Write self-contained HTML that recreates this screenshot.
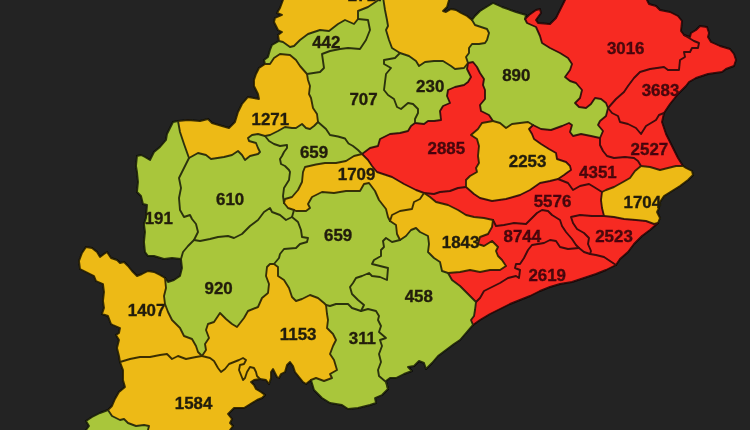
<!DOCTYPE html>
<html lang="en"><head><meta charset="utf-8"><title>Odisha district map</title>
<style>
html,body{margin:0;padding:0;background:#232323;}
body{width:750px;height:430px;overflow:hidden;}
svg{display:block;}
.fills path{stroke-width:.7;stroke-linejoin:round;}
.g{fill:#a9c63a;stroke:#a9c63a;}.o{fill:#edba14;stroke:#edba14;}.r{fill:#f72924;stroke:#f72924;}
.borders{fill:none;stroke:#000;stroke-width:1.9;stroke-linejoin:round;stroke-linecap:round;opacity:0.74;}
text{font-family:"Liberation Sans",sans-serif;font-weight:700;font-size:16.9px;fill:#211d0a;stroke:#211d0a;stroke-width:0.35;text-anchor:middle;}
text.rt{fill:#47070a;stroke:#47070a;}
</style></head><body>
<svg width="750" height="430" viewBox="0 0 750 430">
<defs><filter id="soft" x="-2%" y="-2%" width="104%" height="104%"><feGaussianBlur stdDeviation="0.45"/></filter></defs>
<rect width="750" height="430" fill="#232323"/>
<g filter="url(#soft)">
<g class="fills">
<path class="o" d="M283,-6 283,0 280,8 277,13 282,15 275,18 274,22 278,30 282,32 278,35 279,41 283,42 290,47 294,46 300,40 308,34 320,30 329,31 338,24 345,20 354,24 358,19 358,11 368,7 377,1 380,-3 383,-3 385,10 387,20 388,26 386,30 389,40 392,48 400,53 409,56 416,61 419,66 425,62 434,61 443,61 451,66 455,69 464,68 468,63 466,57 469,53 469,48 472,44 479,44 485,43 487,40 489,33 487,29 481,27 475,25 472,20 467,16 461,13 456,10 451,9 446,12 443,11 447,7 449,0 449,-6Z"/>
<path class="g" d="M279,41 272,45 270,50 268,57 264,60 265,64 270,64 274,58 280,54 290,55 296,60 300,66 307,74 320,72 324,68 322,54 330,51 340,49 348,48 360,49 366,40 370,30 368,20 358,19 354,24 345,20 338,24 329,31 320,30 308,34 300,40 294,46 290,47 283,42 279,41Z"/>
<path class="g" d="M358,19 368,20 370,30 366,40 360,49 348,48 340,49 330,51 322,54 324,68 320,72 307,74 308,80 310,86 309,94 311,98 313,108 317,114 318,122 326,129 330,135 338,136.5 345,138.5 348.5,143.5 353,146 358,150 362,154 370,148 378,146 380,139 390,134 400,133 408,131 411,126 415,123 415,119 418,113 418,109 413,104 408,103 401,109 397,107 394,99 388,95 384,90 385,82 386,74 391,68 384,64 384,60 395,58 400,53 392,48 389,40 386,30 388,26 387,20 385,10 383,-3 380,-3 377,1 368,7 358,11 358,19Z"/>
<path class="g" d="M400,53 395,58 384,60 384,64 391,68 386,74 385,82 384,90 388,95 394,99 397,107 401,109 408,103 413,104 418,109 418,113 415,119 415,123 424,124 428,121 434,121 441,120 440,111 443,106 450,103 447,96 448,90 455,87 464,85 468,82 471,77 467,69 468,63 464,68 455,69 451,66 443,61 434,61 425,62 419,66 416,61 409,56 400,53Z"/>
<path class="g" d="M525,19 526,15 516,12 502,7 493,3 488,6 480,11 475,16 472,20 475,25 481,27 487,29 489,33 487,40 485,43 479,44 472,44 469,48 469,53 466,57 468,63 473,62 477,67 480,73 484,79 483,85 485,90 485,99 480,105 481,111 489,115 493,121 500,123 506,128 512,124 520,123 528,122 533,125 541,129 551,130 562,126 569,123 572,125 570,132 573,136 581,134 591,136 600,138 603,131 598,125 600,121 606,116 608,108 606,103 601,99 595,98 591,104 586,108 579,107 575,103 580,98 582,90 576,83 570,81 565,77 570,70 572,64 568,58 560,53 550,48 542,43 540,36 536,27 527,23 525,19Z"/>
<path class="o" d="M265,64 259,68 256,74 254,80 254,86 258,94 259,99 248,97 242,104 238,112 235,122 229,128 222,126 212,123 208,119 200,121 188,120 178,121 180,132 184,144 189,158 198,153 206,155 211,159 224,157 232,155 238,151 242,155 245,160 250,156 258,154 260,152 258,148 256,143 249,141 248,138 252,135 258,134 265,136 270,135 278,131 285,127 292,128 296,128 302,124 306,128 310,129 314,126 318,122 317,114 313,108 311,98 309,94 310,86 308,80 307,74 300,66 296,60 290,55 280,54 274,58 270,64 265,64Z"/>
<path class="g" d="M318,122 314,126 310,129 306,128 302,124 296,128 292,128 285,127 278,131 270,135 265,136 269,141 274,144 280,146 287,145 287,148 284,152 282,156 280,159 281,164 285,166 289,170 290,172 289,180 284,188 283,196 284,203 285,199 292,197 298,190 302,182 303,172 305,167 316,164.5 325,163 336,163 346,161 354,156 362,154 358,150 353,146 348.5,143.5 345,138.5 338,136.5 330,135 326,129 318,122Z"/>
<path class="g" d="M265,136 258,134 252,135 248,138 249,141 256,143 258,148 260,152 258,154 250,156 245,160 242,155 238,151 232,155 224,157 211,159 206,155 198,153 189,158 186,164 182,172 179,178 181,188 179,198 180,210 184,217 190,215 192,219 196,224 198,232 194,240 200,241 210,239 218,237 228,236 234,238 242,234 250,226 258,220 264,212 270,208 272,212 280,215 286,220 292,217 294,210 288,208 284,203 283,196 284,188 289,180 290,172 289,170 285,166 281,164 280,159 282,156 284,152 287,148 287,145 280,146 274,144 269,141 265,136Z"/>
<path class="g" d="M178,121 173,122 170,128 167,134 166,140 160,147 154,152 150,160 145,157 141,155 137,156 136,166 137,172 138,182 137,192 141,196 143,204 147,205 146,218 144,224 145,232 144,242 145,252 148,256 154,256 164,259 172,258 181,259 183,252 188,246 194,240 198,232 196,224 192,219 190,215 184,217 180,210 179,198 181,188 179,178 182,172 186,164 189,158 184,144 180,132 178,121Z"/>
<path class="g" d="M181,259 182,268 180,276 174,280 168,282 165,278 166,288 164,296 165,304 168,312 172,320 180,328 184,336 192,339 196,346 198,352 202,356 206,350 205,344 209,338 206,330 208,324 214,322 220,313 226,319 232,324 237,327 244,318 248,311 258,307 262,298 268,293 269,284 266,276 267,267 270,264 274,264 279,258 280,254 284,249 296,248 300,244 307,242 308,238 302,237 301,230 298,222 292,217 286,220 280,215 272,212 270,208 264,212 258,220 250,226 242,234 234,238 228,236 218,237 210,239 200,241 194,240 188,246 183,252 181,259Z"/>
<path class="g" d="M292,217 298,222 301,230 302,237 308,238 307,242 300,244 296,248 284,249 280,254 279,258 274,264 278,267 278,276 284,280 289,288 292,297 296,301 302,299 310,295 318,298 324,303 326,305 330,306 336,304 348,304 352,308 361,311 364,305 358,300 352,294 350,287 353,283 356,278 362,276 369,273 372,276 380,277 387,280 388,268 380,266 372,264 374,260 381,256 381,250 384,247 383,241 386,238 392,242 400,240 397,234 396,225 390,221 388,217 386,209 379,200 375,191 369,183 364,184 360,191 346,191 334,193 322,192 312,197 308,204 310,208 306,211 296,211 294,210 292,217Z"/>
<path class="o" d="M284,203 285,199 292,197 298,190 302,182 303,172 305,167 316,164.5 325,163 336,163 346,161 354,156 362,154 368,160 372,166 377,172 392,177 404,184 416,190 424,193 420,199 414,202 412,209 400,211 392,215 390,221 388,217 386,209 379,200 375,191 369,183 364,184 360,191 346,191 334,193 322,192 312,197 308,204 310,208 306,211 296,211 294,210 288,208 284,203Z"/>
<path class="r" d="M362,154 370,148 378,146 380,139 390,134 400,133 408,131 411,126 415,123 424,124 428,121 434,121 441,120 440,111 443,106 450,103 447,96 448,90 455,87 464,85 468,82 471,77 467,69 468,63 473,62 477,67 480,73 484,79 483,85 485,90 485,99 480,105 481,111 489,115 493,121 482,123 478,129 471,135 477,139 479,146 478,156 479,163 476,168 477,172 470,176 466,180 466,187 458,188 450,191 440,192 434,194 424,193 416,190 404,184 392,177 377,172 372,166 368,160 362,154Z"/>
<path class="o" d="M493,121 500,123 506,128 512,124 520,123 528,122 533,125 529,129 532,134 534,139 541,144 549,149 556,153 557,159 566,162 570,166 571,170 568,172 564,175 558,179 550,181 540,183 530,190 520,195 506,199 492,201 480,198 474,194 466,187 466,180 470,176 477,172 476,168 479,163 478,156 479,146 477,139 471,135 478,129 482,123 493,121Z"/>
<path class="r" d="M565,-6 565,0 562,6 556,18 550,24 538,23 536,20 541,13 540,9 536,10 529,15 525,19 527,23 536,27 540,36 542,43 550,48 560,53 568,58 572,64 570,70 565,77 570,81 576,83 582,90 580,98 575,103 579,107 586,108 591,104 595,98 601,99 606,103 608,108 616,99 624,92 628,86 634,78 640,72 650,69 664,67 668,70 679,70 680,60 685,57 684,52 690,52 692,48 698,48 699,43 694,41 684,35 681,31 682,21 678,16 670,12 660,10 656,6 649,4 647,0 647,-6Z"/>
<path class="r" d="M664,113 670,104 678,94 686,86 689,82 696,78 708,74 722,72 726,69 734,66 736,60 734,54 730,49 720,46 711,42 708,37 709,33 707,27 700,26 696,30 691,33 690,37 684,35 694,41 699,43 698,48 692,48 690,52 684,52 685,57 680,60 679,70 668,70 664,67 650,69 640,72 634,78 628,86 624,92 616,99 608,108 612,113 618,116 620,122 628,124 636,128 641,134 646,126 656,120 659,115 664,113Z"/>
<path class="r" d="M683,166 678,158 672,146 666,134 662,122 664,113 659,115 656,120 646,126 641,134 636,128 628,124 620,122 618,116 612,113 608,108 606,116 600,121 598,125 603,131 600,138 600,145 603,151 607,156 614,158 625,157 634,158 638,161 641,166 650,167 660,170 668,168 676,166 683,166Z"/>
<path class="r" d="M600,138 591,136 581,134 573,136 570,132 572,125 569,123 562,126 551,130 541,129 533,125 529,129 532,134 534,139 541,144 549,149 556,153 557,159 566,162 570,166 571,170 568,172 564,175 558,179 568,183 573,190 580,186 589,184 594,187 602,192 606,190 614,187 623,182 630,178 635,171 641,166 638,161 634,158 625,157 614,158 607,156 603,151 600,145 600,138Z"/>
<path class="o" d="M658,223 660,218 657,212 659,208 660,202 664,196 672,191 680,186 688,180 693,175 692,171 686,168 683,166 676,166 668,168 660,170 650,167 641,166 635,171 630,178 623,182 614,187 606,190 602,192 601,200 602,208 604,216 614,217 624,219 636,220 646,221 654,224 658,223Z"/>
<path class="r" d="M424,193 434,194 440,192 450,191 458,188 466,187 474,194 480,198 492,201 506,199 520,195 530,190 540,183 550,181 558,179 568,183 573,190 580,186 589,184 594,187 602,192 601,200 602,208 604,216 592,216 580,215 571,217 573,223 577,229 584,233 589,238 588,244 591,251 590,254 584,252 579,248 576,245 572,239 566,232 562,226 560,220 552,215 548,211 542,210 537,213 532,218 526,224 514,223 504,225 496,226 493,220 484,218 474,217 466,215 458,210 448,205 436,202 430,197 424,193Z"/>
<path class="r" d="M616,265 620,259 628,252 634,244 642,236 650,230 658,223 654,224 646,221 636,220 624,219 614,217 604,216 592,216 580,215 571,217 573,223 577,229 584,233 589,238 588,244 591,251 590,254 596,255 604,257 610,261 616,265Z"/>
<path class="r" d="M493,220 496,226 504,225 514,223 526,224 532,218 537,213 542,210 548,211 552,215 560,220 562,226 566,232 572,239 576,245 579,248 568,249 560,247 556,241 550,240 544,243 532,245 528,250 524,258 520,264 516,264 515,268 520,270 519,278 516,276 508,278 500,283 492,287 484,291 480,298 476,302 472,298 466,292 460,286 452,280 448,273 460,272 470,270 480,272 490,270 500,270 506,266 502,260 498,256 496,251 498,247 492,241 484,246 478,244 480,237 488,234 492,227 493,220Z"/>
<path class="r" d="M473,325 480,320 490,314 500,309 510,304 520,300 530,296 540,291 550,287 560,284 572,282 584,278 596,274 606,270 616,265 610,261 604,257 596,255 590,254 584,252 579,248 568,249 560,247 556,241 550,240 544,243 532,245 528,250 524,258 520,264 516,264 515,268 520,270 519,278 516,276 508,278 500,283 492,287 484,291 480,298 476,302 475,310 474,316 471,320 473,325Z"/>
<path class="o" d="M424,193 430,197 436,202 448,205 458,210 466,215 474,217 484,218 493,220 492,227 488,234 480,237 478,244 484,246 492,241 498,247 496,251 498,256 502,260 506,266 500,270 490,270 480,272 470,270 460,272 448,273 442,271 440,262 434,258 428,252 429,244 428,236 420,232 416,228 411,230 406,236 400,240 397,234 396,225 390,221 392,215 400,211 412,209 414,202 420,199 424,193Z"/>
<path class="g" d="M400,240 406,236 411,230 416,228 420,232 428,236 429,244 428,252 434,258 440,262 442,271 448,273 452,280 460,286 466,292 472,298 476,302 475,310 474,316 471,320 473,325 466,333 460,340 454,344 446,350 438,356 432,363 426,369 424,363 419,361 414,366 408,367 412,371 404,374 396,378 390,378 386,381 388,389 386,382 379,376 378,370 381,362 379,354 382,346 380,340 386,338 379,332 381,326 378,320 379,316 376,311 368,309 361,311 364,305 358,300 352,294 350,287 353,283 356,278 362,276 369,273 372,276 380,277 387,280 388,268 380,266 372,264 374,260 381,256 381,250 384,247 383,241 386,238 392,242 400,240Z"/>
<path class="g" d="M361,311 368,309 376,311 379,316 378,320 381,326 379,332 386,338 380,340 382,346 379,354 381,362 378,370 379,376 386,382 388,389 382,395 375,398 376,403 370,405 358,408 348,409 342,405 330,403 322,398 314,390 311,380 316,378 324,381 332,378 330,374 337,370 334,360 330,354 333,346 336,340 333,334 327,328 328,320 327,314 326,305 330,306 336,304 348,304 352,308 361,311Z"/>
<path class="o" d="M274,264 278,267 278,276 284,280 289,288 292,297 296,301 302,299 310,295 318,298 324,303 326,305 327,314 328,320 327,328 333,334 336,340 333,346 330,354 334,360 337,370 330,374 332,378 324,381 316,378 311,380 306,384 303,382 299,377 295,372 293,366 290,362 287,365 285,372 281,374 279,378 277,377 275,373 273,369 271,372 271,378 269,384 266,380 260,379 257,376 256,372 254,368 250,367 247,372 245,378 243,380 241,375 239,370 240,365 244,364 246,360 243,358 239,360 234,362 229,364 225,369 221,372 218,368 214,361 210,358 202,356 206,350 205,344 209,338 206,330 208,324 214,322 220,313 226,319 232,324 237,327 244,318 248,311 258,307 262,298 268,293 269,284 266,276 267,267 270,264 274,264Z"/>
<path class="o" d="M165,278 160,275 154,272 148,271 142,274 137,276 132,271 128,266 124,262 120,263 117,260 111,258 107,252 104,254 100,257 97,252 92,248 86,247 82,253 79,261 80,269 88,273 94,276 96,281 103,284 104,292 103,301 104,308 102,314 108,316 111,324 113,325 120,328 119,333 116,335 119,340 117,348 119,356 120,362 130,359 140,357 150,357 160,355 167,354 172,359 178,356 186,359 196,357 202,356 198,352 196,346 192,339 184,336 180,328 172,320 168,312 165,304 164,296 166,288 165,278Z"/>
<path class="o" d="M120,362 123,370 123,380 125,387 119,392 115,399 112,406 108,410 112,416 120,420 124,419 128,423 136,426 144,425 149,426 148,430 148,437 230,437 230,430 233,426 230,423 232,419 228,414 234,408 244,408 252,403 257,400 262,398 265,395 261,392 256,389 254,385 251,382 254,380 260,379 257,376 256,372 254,368 250,367 247,372 245,378 243,380 241,375 239,370 240,365 244,364 246,360 243,358 239,360 234,362 229,364 225,369 221,372 218,368 214,361 210,358 202,356 196,357 186,359 178,356 172,359 167,354 160,355 150,357 140,357 130,359 120,362Z"/>
<path class="g" d="M108,410 100,413 92,417 86,421 89,426 86,430 86,437 148,437 148,430 149,426 144,425 136,426 128,423 124,419 120,420 112,416 108,410Z"/>
</g>
<g class="borders">
<path d="M283,-6 283,0 280,8 277,13 282,15 275,18 274,22 278,30 282,32 278,35 279,41"/>
<path d="M279,41 272,45 270,50 268,57 264,60 265,64"/>
<path d="M265,64 259,68 256,74 254,80 254,86 258,94 259,99 248,97 242,104 238,112 235,122 229,128 222,126 212,123 208,119 200,121 188,120 178,121"/>
<path d="M178,121 173,122 170,128 167,134 166,140 160,147 154,152 150,160 145,157 141,155 137,156 136,166 137,172 138,182 137,192 141,196 143,204 147,205 146,218 144,224 145,232 144,242 145,252 148,256 154,256 164,259 172,258 181,259"/>
<path d="M181,259 182,268 180,276 174,280 168,282 165,278"/>
<path d="M165,278 160,275 154,272 148,271 142,274 137,276 132,271 128,266 124,262 120,263 117,260 111,258 107,252 104,254 100,257 97,252 92,248 86,247 82,253 79,261 80,269 88,273 94,276 96,281 103,284 104,292 103,301 104,308 102,314 108,316 111,324 113,325 120,328 119,333 116,335 119,340 117,348 119,356 120,362"/>
<path d="M120,362 123,370 123,380 125,387 119,392 115,399 112,406 108,410"/>
<path d="M108,410 100,413 92,417 86,421 89,426 86,430 86,437"/>
<path d="M230,437 230,430 233,426 230,423 232,419 228,414 234,408 244,408 252,403 257,400 262,398 265,395 261,392 256,389 254,385 251,382 254,380 260,379"/>
<path d="M260,379 266,380 269,384 271,378 271,372 273,369 275,373 277,377 279,378 281,374 285,372 287,365 290,362 293,366 295,372 299,377 303,382 306,384 311,380"/>
<path d="M311,380 314,390 322,398 330,403 342,405 348,409 358,408 370,405 376,403 375,398 382,395 388,389"/>
<path d="M388,389 386,381 390,378 396,378 404,374 412,371 408,367 414,366 419,361 424,363 426,369 432,363 438,356 446,350 454,344 460,340 466,333 473,325"/>
<path d="M473,325 480,320 490,314 500,309 510,304 520,300 530,296 540,291 550,287 560,284 572,282 584,278 596,274 606,270 616,265"/>
<path d="M616,265 620,259 628,252 634,244 642,236 650,230 658,223"/>
<path d="M658,223 660,218 657,212 659,208 660,202 664,196 672,191 680,186 688,180 693,175 692,171 686,168 683,166"/>
<path d="M683,166 678,158 672,146 666,134 662,122 664,113"/>
<path d="M664,113 670,104 678,94 686,86 689,82 696,78 708,74 722,72 726,69 734,66 736,60 734,54 730,49 720,46 711,42 708,37 709,33 707,27 700,26 696,30 691,33 690,37 684,35"/>
<path d="M684,35 681,31 682,21 678,16 670,12 660,10 656,6 649,4 647,0 647,-6"/>
<path d="M565,-6 565,0 562,6 556,18 550,24 538,23 536,20 541,13 540,9 536,10 529,15 525,19"/>
<path d="M525,19 526,15 516,12 502,7 493,3 488,6 480,11 475,16 472,20"/>
<path d="M472,20 467,16 461,13 456,10 451,9 446,12 443,11 447,7 449,0 449,-6"/>
<path d="M279,41 283,42 290,47 294,46 300,40 308,34 320,30 329,31 338,24 345,20 354,24 358,19"/>
<path d="M358,19 358,11 368,7 377,1 380,-3 383,-3 385,10 387,20 388,26 386,30 389,40 392,48 400,53"/>
<path d="M358,19 368,20 370,30 366,40 360,49 348,48 340,49 330,51 322,54 324,68 320,72 307,74"/>
<path d="M265,64 270,64 274,58 280,54 290,55 296,60 300,66 307,74"/>
<path d="M307,74 308,80 310,86 309,94 311,98 313,108 317,114 318,122"/>
<path d="M318,122 314,126 310,129 306,128 302,124 296,128 292,128 285,127 278,131 270,135 265,136"/>
<path d="M265,136 258,134 252,135 248,138 249,141 256,143 258,148 260,152 258,154 250,156 245,160 242,155 238,151 232,155 224,157 211,159 206,155 198,153 189,158"/>
<path d="M178,121 180,132 184,144 189,158"/>
<path d="M189,158 186,164 182,172 179,178 181,188 179,198 180,210 184,217 190,215 192,219 196,224 198,232 194,240"/>
<path d="M194,240 188,246 183,252 181,259"/>
<path d="M194,240 200,241 210,239 218,237 228,236 234,238 242,234 250,226 258,220 264,212 270,208 272,212 280,215 286,220 292,217"/>
<path d="M292,217 294,210"/>
<path d="M284,203 288,208 294,210"/>
<path d="M265,136 269,141 274,144 280,146 287,145 287,148 284,152 282,156 280,159 281,164 285,166 289,170 290,172 289,180 284,188 283,196 284,203"/>
<path d="M284,203 285,199 292,197 298,190 302,182 303,172 305,167 316,164.5 325,163 336,163 346,161 354,156 362,154"/>
<path d="M318,122 326,129 330,135 338,136.5 345,138.5 348.5,143.5 353,146 358,150 362,154"/>
<path d="M362,154 370,148 378,146 380,139 390,134 400,133 408,131 411,126 415,123"/>
<path d="M400,53 395,58 384,60 384,64 391,68 386,74 385,82 384,90 388,95 394,99 397,107 401,109 408,103 413,104 418,109 418,113 415,119 415,123"/>
<path d="M400,53 409,56 416,61 419,66 425,62 434,61 443,61 451,66 455,69 464,68 468,63"/>
<path d="M472,20 475,25 481,27 487,29 489,33 487,40 485,43 479,44 472,44 469,48 469,53 466,57 468,63"/>
<path d="M468,63 467,69 471,77 468,82 464,85 455,87 448,90 447,96 450,103 443,106 440,111 441,120 434,121 428,121 424,124 415,123"/>
<path d="M468,63 473,62 477,67 480,73 484,79 483,85 485,90 485,99 480,105 481,111 489,115 493,121"/>
<path d="M493,121 500,123 506,128 512,124 520,123 528,122 533,125"/>
<path d="M493,121 482,123 478,129 471,135 477,139 479,146 478,156 479,163 476,168 477,172 470,176 466,180 466,187"/>
<path d="M525,19 527,23 536,27 540,36 542,43 550,48 560,53 568,58 572,64 570,70 565,77 570,81 576,83 582,90 580,98 575,103 579,107 586,108 591,104 595,98 601,99 606,103 608,108"/>
<path d="M684,35 694,41 699,43 698,48 692,48 690,52 684,52 685,57 680,60 679,70 668,70 664,67 650,69 640,72 634,78 628,86 624,92 616,99 608,108"/>
<path d="M608,108 612,113 618,116 620,122 628,124 636,128 641,134 646,126 656,120 659,115 664,113"/>
<path d="M608,108 606,116 600,121 598,125 603,131 600,138"/>
<path d="M600,138 591,136 581,134 573,136 570,132 572,125 569,123 562,126 551,130 541,129 533,125"/>
<path d="M533,125 529,129 532,134 534,139 541,144 549,149 556,153 557,159 566,162 570,166 571,170 568,172 564,175 558,179"/>
<path d="M466,187 474,194 480,198 492,201 506,199 520,195 530,190 540,183 550,181 558,179"/>
<path d="M558,179 568,183 573,190 580,186 589,184 594,187 602,192"/>
<path d="M600,138 600,145 603,151 607,156 614,158 625,157 634,158 638,161 641,166"/>
<path d="M602,192 606,190 614,187 623,182 630,178 635,171 641,166"/>
<path d="M641,166 650,167 660,170 668,168 676,166 683,166"/>
<path d="M602,192 601,200 602,208 604,216"/>
<path d="M604,216 614,217 624,219 636,220 646,221 654,224 658,223"/>
<path d="M604,216 592,216 580,215 571,217 573,223 577,229 584,233 589,238 588,244 591,251 590,254"/>
<path d="M590,254 596,255 604,257 610,261 616,265"/>
<path d="M493,220 496,226 504,225 514,223 526,224 532,218 537,213 542,210 548,211 552,215 560,220 562,226 566,232 572,239 576,245 579,248"/>
<path d="M579,248 584,252 590,254"/>
<path d="M579,248 568,249 560,247 556,241 550,240 544,243 532,245 528,250 524,258 520,264 516,264 515,268 520,270 519,278 516,276 508,278 500,283 492,287 484,291 480,298 476,302"/>
<path d="M493,220 492,227 488,234 480,237 478,244 484,246 492,241 498,247 496,251 498,256 502,260 506,266 500,270 490,270 480,272 470,270 460,272 448,273"/>
<path d="M424,193 430,197 436,202 448,205 458,210 466,215 474,217 484,218 493,220"/>
<path d="M424,193 434,194 440,192 450,191 458,188 466,187"/>
<path d="M362,154 368,160 372,166 377,172 392,177 404,184 416,190 424,193"/>
<path d="M424,193 420,199 414,202 412,209 400,211 392,215 390,221"/>
<path d="M294,210 296,211 306,211 310,208 308,204 312,197 322,192 334,193 346,191 360,191 364,184 369,183 375,191 379,200 386,209 388,217 390,221"/>
<path d="M390,221 396,225 397,234 400,240"/>
<path d="M400,240 406,236 411,230 416,228 420,232 428,236 429,244 428,252 434,258 440,262 442,271 448,273"/>
<path d="M400,240 392,242 386,238 383,241 384,247 381,250 381,256 374,260 372,264 380,266 388,268 387,280 380,277 372,276 369,273 362,276 356,278 353,283 350,287 352,294 358,300 364,305 361,311"/>
<path d="M361,311 352,308 348,304 336,304 330,306 326,305"/>
<path d="M361,311 368,309 376,311 379,316 378,320 381,326 379,332 386,338 380,340 382,346 379,354 381,362 378,370 379,376 386,382 388,389"/>
<path d="M311,380 316,378 324,381 332,378 330,374 337,370 334,360 330,354 333,346 336,340 333,334 327,328 328,320 327,314 326,305"/>
<path d="M292,217 298,222 301,230 302,237 308,238 307,242 300,244 296,248 284,249 280,254 279,258 274,264"/>
<path d="M274,264 278,267 278,276 284,280 289,288 292,297 296,301 302,299 310,295 318,298 324,303 326,305"/>
<path d="M274,264 270,264 267,267 266,276 269,284 268,293 262,298 258,307 248,311 244,318 237,327 232,324 226,319 220,313 214,322 208,324 206,330 209,338 205,344 206,350 202,356"/>
<path d="M165,278 166,288 164,296 165,304 168,312 172,320 180,328 184,336 192,339 196,346 198,352 202,356"/>
<path d="M120,362 130,359 140,357 150,357 160,355 167,354 172,359 178,356 186,359 196,357 202,356"/>
<path d="M202,356 210,358 214,361 218,368 221,372 225,369 229,364 234,362 239,360 243,358 246,360 244,364 240,365 239,370 241,375 243,380 245,378 247,372 250,367 254,368 256,372 257,376 260,379"/>
<path d="M108,410 112,416 120,420 124,419 128,423 136,426 144,425 149,426 148,430 148,437"/>
<path d="M448,273 452,280 460,286 466,292 472,298 476,302"/>
<path d="M476,302 475,310 474,316 471,320 473,325"/>
</g>
<g class="labels">
<text x="326.3" y="47.5">442</text>
<text x="363.5" y="105.2">707</text>
<text x="430.2" y="92">230</text>
<text x="516.3" y="81">890</text>
<text x="625.7" y="54.3" class="rt">3016</text>
<text x="660.5" y="95.6" class="rt">3683</text>
<text x="270.3" y="125">1271</text>
<text x="314" y="157.7">659</text>
<text x="446.3" y="153.8" class="rt">2885</text>
<text x="527.6" y="166.6">2253</text>
<text x="649.4" y="154.7" class="rt">2527</text>
<text x="356.6" y="180.2">1709</text>
<text x="597.9" y="177.6" class="rt">4351</text>
<text x="230.1" y="204.5">610</text>
<text x="158.8" y="223.8">191</text>
<text x="552.5" y="206.5" class="rt">5576</text>
<text x="642.3" y="207.5">1704</text>
<text x="338.1" y="240.8">659</text>
<text x="460.6" y="248.3">1843</text>
<text x="522.3" y="241.8" class="rt">8744</text>
<text x="614" y="241.8" class="rt">2523</text>
<text x="547.2" y="280.6" class="rt">2619</text>
<text x="218.6" y="293.5">920</text>
<text x="418.8" y="302.2">458</text>
<text x="146.6" y="315.5">1407</text>
<text x="298.2" y="339.6">1153</text>
<text x="362.4" y="344">311</text>
<text x="193.6" y="408.8">1584</text>
<text x="366.5" y="1.1">2717</text>
</g>
</g>
</svg>
</body></html>
